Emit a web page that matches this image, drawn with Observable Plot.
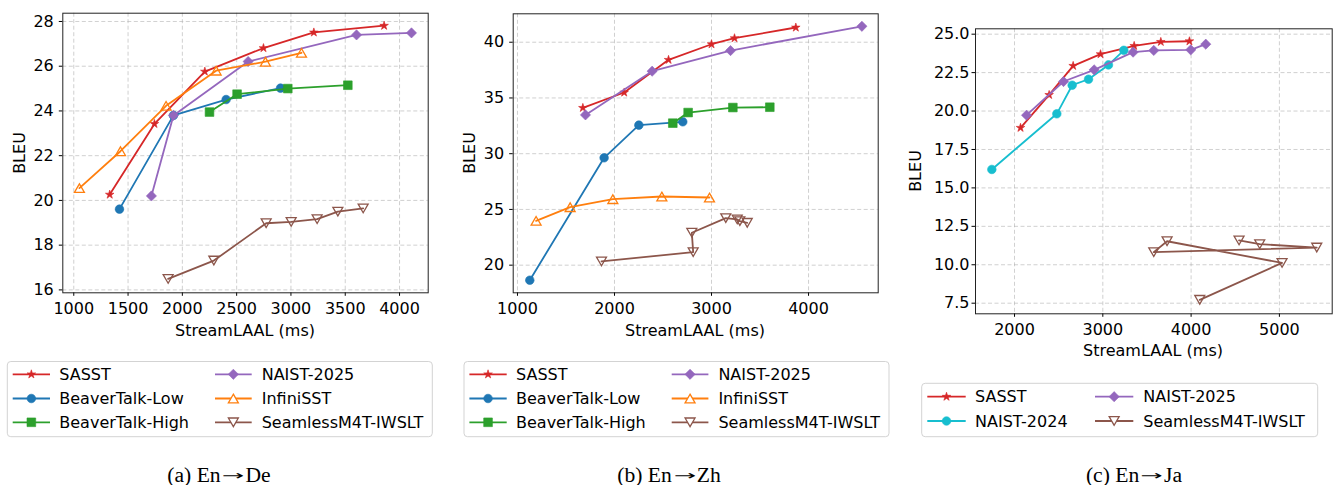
<!DOCTYPE html>
<html><head><meta charset="utf-8">
<script src="https://cdn.jsdelivr.net/npm/d3@7"></script>
<script src="https://cdn.jsdelivr.net/npm/@observablehq/plot@0.6"></script>
<style>
body{margin:0;background:#fff;width:1333px;height:485px;position:relative;overflow:hidden;font-family:"DejaVu Sans",sans-serif;color:#000}
.panel{position:absolute;top:0}
.xl{position:absolute;font-size:16px;transform:translate(-50%,-50%);white-space:nowrap}
.yl{position:absolute;font-size:16px;transform:translate(-50%,-50%) rotate(-90deg);white-space:nowrap}
.cap{position:absolute;font-family:"Liberation Serif","Times New Roman",serif;font-size:20px;font-weight:normal;white-space:nowrap;line-height:1;transform:translate(-50%,-50%) scaleX(1.08)}
.cap .arr{display:inline-block;width:23px;text-align:center;font-family:"DejaVu Sans",sans-serif;font-size:13px;vertical-align:2px;transform:scaleX(1.9)}
svg.leg{position:absolute;left:0;top:0;overflow:visible}
</style></head>
<body>
<div id="root"></div>
<script>
// ---------- data ----------
// En→De
const deSASST_x = [1331, 1743, 2207, 2747, 3211, 3858];
const deSASST_y = [20.26, 23.42, 25.76, 26.81, 27.51, 27.81];
const deBTLow_x = [1421, 1918, 2403, 2904];
const deBTLow_y = [19.61, 23.80, 24.51, 25.02];
const deBTHigh_x = [2250, 2504, 2971, 3524];
const deBTHigh_y = [23.95, 24.75, 25.00, 25.15];
const deNAIST25_x = [1715, 1918, 2606, 3604, 4110];
const deNAIST25_y = [20.20, 23.80, 26.21, 27.40, 27.49];
const deInfini_x = [1052, 1430, 1850, 2311, 2765, 3097];
const deInfini_y = [20.55, 22.20, 24.23, 25.80, 26.20, 26.60];
const deSeamless_x = [1869, 2290, 2772, 3002, 3241, 3432, 3665];
const deSeamless_y = [16.49, 17.31, 18.98, 19.04, 19.16, 19.50, 19.64];
// En→Zh
const zhSASST_x = [1674, 2100, 2557, 3000, 3237, 3869];
const zhSASST_y = [34.11, 35.49, 38.42, 39.82, 40.36, 41.32];
const zhBTLow_x = [1127, 1893, 2251, 2704];
const zhBTLow_y = [18.65, 29.63, 32.56, 32.86];
const zhBTHigh_x = [2601, 2759, 3220, 3601];
const zhBTHigh_y = [32.74, 33.69, 34.14, 34.17];
const zhNAIST25_x = [1701, 2388, 3196, 4550];
const zhNAIST25_y = [33.48, 37.40, 39.25, 41.43];
const zhInfini_x = [1192, 1543, 1983, 2488, 2979];
const zhInfini_y = [23.98, 25.20, 25.92, 26.16, 26.07];
const zhSeamless_x = [1866, 2811, 2797, 3147, 3265, 3292, 3368];
const zhSeamless_y = [20.33, 21.17, 22.91, 24.22, 24.10, 23.95, 23.80];
// En→Ja
const jaSASST_x = [2068, 2392, 2664, 2974, 3355, 3657, 3981];
const jaSASST_y = [18.91, 21.05, 22.94, 23.70, 24.24, 24.50, 24.54];
const jaNAIST24_x = [1743, 2479, 2653, 2838, 3064, 3238];
const jaNAIST24_y = [16.20, 19.82, 21.68, 22.07, 23.00, 23.95];
const jaNAIST25_x = [2136, 2555, 2902, 3343, 3577, 3996, 4166];
const jaNAIST25_y = [19.73, 21.92, 22.68, 23.83, 23.94, 23.98, 24.35];
const jaSeamless_x = [4098, 5030, 3728, 3577, 5423, 4777, 4543];
const jaSeamless_y = [7.72, 10.12, 11.53, 10.82, 11.12, 11.34, 11.58];

const deXTicks = [1000, 1500, 2000, 2500, 3000, 3500, 4000];
const deYTicks = [16, 18, 20, 22, 24, 26, 28];
const zhXTicks = [1000, 2000, 3000, 4000];
const zhYTicks = [20, 25, 30, 35, 40];
const jaXTicks = [2000, 3000, 4000, 5000];
const jaYTicks = [7.5, 10, 12.5, 15, 17.5, 20, 22.5, 25];

const captions = [["(a) En", "→", "De"], ["(b) En", "→", "Zh"], ["(c) En", "→", "Ja"]];
const xLabel = "StreamLAAL (ms)";
const yLabel = "BLEU";

// ---------- styles ----------
const S = {
  "SASST": {color: "#d62728", symbol: "star", r: 2.7, hollow: false},
  "BeaverTalk-Low": {color: "#1f77b4", symbol: "circle", r: 4.3, hollow: false},
  "BeaverTalk-High": {color: "#2ca02c", symbol: "square", r: 4.9, hollow: false},
  "NAIST-2025": {color: "#9467bd", symbol: "diamond2", r: 4.6, hollow: false},
  "InfiniSST": {color: "#ff7f0e", symbol: "triangle", r: 3.7, hollow: true, rot: 0},
  "SeamlessM4T-IWSLT": {color: "#8c564b", symbol: "triangle", r: 3.7, hollow: true, rot: 180},
  "NAIST-2024": {color: "#17becf", symbol: "circle", r: 4.3, hollow: false}
};

const panels = [
  {left: 0, width: 440, height: 320, ml: 62.3, mr: 12.3, mt: 12.7, mb: 27.7,
   xd: [899, 4264], yd: [15.87, 28.37], xt: deXTicks, yt: deYTicks, yf: d3.format("d"), ypad: 5.5,
   series: [["SASST", deSASST_x, deSASST_y], ["BeaverTalk-Low", deBTLow_x, deBTLow_y],
            ["BeaverTalk-High", deBTHigh_x, deBTHigh_y], ["NAIST-2025", deNAIST25_x, deNAIST25_y],
            ["InfiniSST", deInfini_x, deInfini_y], ["SeamlessM4T-IWSLT", deSeamless_x, deSeamless_y]],
   xl: [245, 330], yl: [18.8, 152.5], cap: [219, 474.5],
   leg: {box: [7.3, 361.5, 432.3, 436.7], rows: [374.3, 398.5, 422.3], cols: [[12.7, 50, 59.3], [215, 251.7, 261.7]]}},
  {left: 440, width: 450, height: 320, ml: 72.7, mr: 12.3, mt: 13.3, mb: 27.7,
   xd: [956, 4718], yd: [17.52, 42.55], xt: zhXTicks, yt: zhYTicks, yf: d3.format("d"), ypad: 5.5,
   series: [["SASST", zhSASST_x, zhSASST_y], ["BeaverTalk-Low", zhBTLow_x, zhBTLow_y],
            ["BeaverTalk-High", zhBTHigh_x, zhBTHigh_y], ["NAIST-2025", zhNAIST25_x, zhNAIST25_y],
            ["InfiniSST", zhInfini_x, zhInfini_y], ["SeamlessM4T-IWSLT", zhSeamless_x, zhSeamless_y]],
   xl: [695, 330], yl: [469, 152.5], cap: [668.7, 474.5],
   leg: {box: [464, 361.5, 889, 436.7], rows: [374.3, 398.5, 422.3], cols: [[469.4, 506.7, 516], [671.7, 708.4, 718.4]]}},
  {left: 890, width: 443, height: 345, ml: 85, mr: 1.3, mt: 28.3, mb: 31.7,
   xd: [1558, 5598], yd: [6.81, 25.35], xt: jaXTicks, yt: jaYTicks, yf: d3.format(".1f"), ypad: 2.5,
   series: [["SASST", jaSASST_x, jaSASST_y], ["NAIST-2024", jaNAIST24_x, jaNAIST24_y],
            ["NAIST-2025", jaNAIST25_x, jaNAIST25_y], ["SeamlessM4T-IWSLT", jaSeamless_x, jaSeamless_y]],
   xl: [1153, 350], yl: [914.7, 170.8], cap: [1134, 474.5],
   leg: {box: [921.7, 383.3, 1317.7, 436.7], rows: [396.7, 421], cols: [[927.3, 965.7, 975], [1095, 1133.3, 1143.3]]}}
];

const root = document.getElementById("root");
const gridOpts = {stroke: "#b0b0b0", strokeOpacity: 0.6, strokeDasharray: "4,2.5", strokeWidth: 1};

panels.forEach((p, pi) => {
  const marks = [
    Plot.gridX(p.xt, gridOpts),
    Plot.gridY(p.yt, gridOpts),
  ];
  p.series.forEach(([name, xs, ys]) => {
    const st = S[name];
    const data = xs.map((x, i) => ({x, y: ys[i]}));
    marks.push(Plot.line(data, {x: "x", y: "y", stroke: st.color, strokeWidth: 1.8, curve: "linear"}));
    const tri = st.symbol === "triangle";
    const off = tri ? Math.sqrt(Math.PI * st.r * st.r / (3 * Math.sqrt(3))) / 2 : 0;
    marks.push(Plot.dot(data, {
      x: "x", y: "y", symbol: st.symbol, r: st.r,
      fill: st.hollow ? "none" : st.color,
      stroke: st.color, strokeWidth: st.hollow ? 1.3 : 0.6,
      rotate: st.rot || 0,
      dy: tri ? (st.rot ? -off : off) : 0
    }));
  });
  marks.push(Plot.axisX(p.xt, {tickSize: 3.5, tickPadding: 6.5, tickFormat: d3.format("d"), label: null, fontSize: 16}));
  marks.push(Plot.axisY(p.yt, {tickSize: 3.5, tickPadding: p.ypad, tickFormat: p.yf, label: null, fontSize: 16}));
  marks.push(Plot.frame({stroke: "#222", strokeWidth: 1}));

  const chart = Plot.plot({
    width: p.width, height: p.height,
    marginLeft: p.ml, marginRight: p.mr, marginTop: p.mt, marginBottom: p.mb,
    x: {domain: p.xd, label: null},
    y: {domain: p.yd, label: null},
    style: {fontFamily: "'DejaVu Sans', sans-serif", fontSize: "16px", color: "#000", background: "transparent", overflow: "visible"},
    marks
  });
  const wrap = document.createElement("div");
  wrap.className = "panel";
  wrap.style.left = p.left + "px";
  wrap.appendChild(chart);
  root.appendChild(wrap);

  const xl = document.createElement("div");
  xl.className = "xl"; xl.textContent = xLabel;
  xl.style.left = p.xl[0] + "px"; xl.style.top = p.xl[1] + "px";
  root.appendChild(xl);
  const yl = document.createElement("div");
  yl.className = "yl"; yl.textContent = yLabel;
  yl.style.left = p.yl[0] + "px"; yl.style.top = p.yl[1] + "px";
  root.appendChild(yl);
  const cap = document.createElement("div");
  cap.className = "cap";
  const [c0, c1, c2] = captions[pi];
  cap.appendChild(document.createTextNode(c0));
  const arr = document.createElement("span");
  arr.className = "arr"; arr.textContent = c1;
  cap.appendChild(arr);
  cap.appendChild(document.createTextNode(c2));
  cap.style.left = p.cap[0] + "px"; cap.style.top = p.cap[1] + "px";
  root.appendChild(cap);
});

// ---------- legends ----------
const symMap = {star: d3.symbolStar, circle: d3.symbolCircle, square: d3.symbolSquare, diamond2: d3.symbolDiamond2, triangle: d3.symbolTriangle};
const legSvg = d3.select(root).append("svg").attr("class", "leg").attr("width", 1333).attr("height", 485);
panels.forEach(p => {
  const [x0, y0, x1, y1] = p.leg.box;
  legSvg.append("rect").attr("x", x0).attr("y", y0).attr("width", x1 - x0).attr("height", y1 - y0)
    .attr("rx", 3.5).attr("fill", "#fff").attr("fill-opacity", 0.8).attr("stroke", "#d3d3d3").attr("stroke-width", 1);
  const nRows = p.leg.rows.length;
  p.series.forEach(([name], i) => {
    const col = Math.floor(i / nRows), row = i % nRows;
    const [lx0, lx1, tx] = p.leg.cols[col];
    const y = p.leg.rows[row];
    const st = S[name];
    const g = legSvg.append("g");
    g.append("line").attr("x1", lx0).attr("x2", lx1).attr("y1", y).attr("y2", y)
      .attr("stroke", st.color).attr("stroke-width", 1.8);
    const tri = st.symbol === "triangle";
    const off = tri ? Math.sqrt(Math.PI * st.r * st.r / (3 * Math.sqrt(3))) / 2 : 0;
    const cy = y + (tri ? (st.rot ? -off : off) : 0);
    g.append("path").attr("d", d3.symbol(symMap[st.symbol], Math.PI * st.r * st.r)())
      .attr("transform", `translate(${(lx0 + lx1) / 2},${cy}) rotate(${st.rot || 0})`)
      .attr("fill", st.hollow ? "#fff" : st.color).attr("stroke", st.color).attr("stroke-width", st.hollow ? 1.3 : 0.6);
    g.append("text").attr("x", tx).attr("y", y).attr("dy", "0.35em")
      .attr("font-family", "'DejaVu Sans', sans-serif").attr("font-size", 16).attr("fill", "#000").text(name);
  });
});
</script>
</body></html>
